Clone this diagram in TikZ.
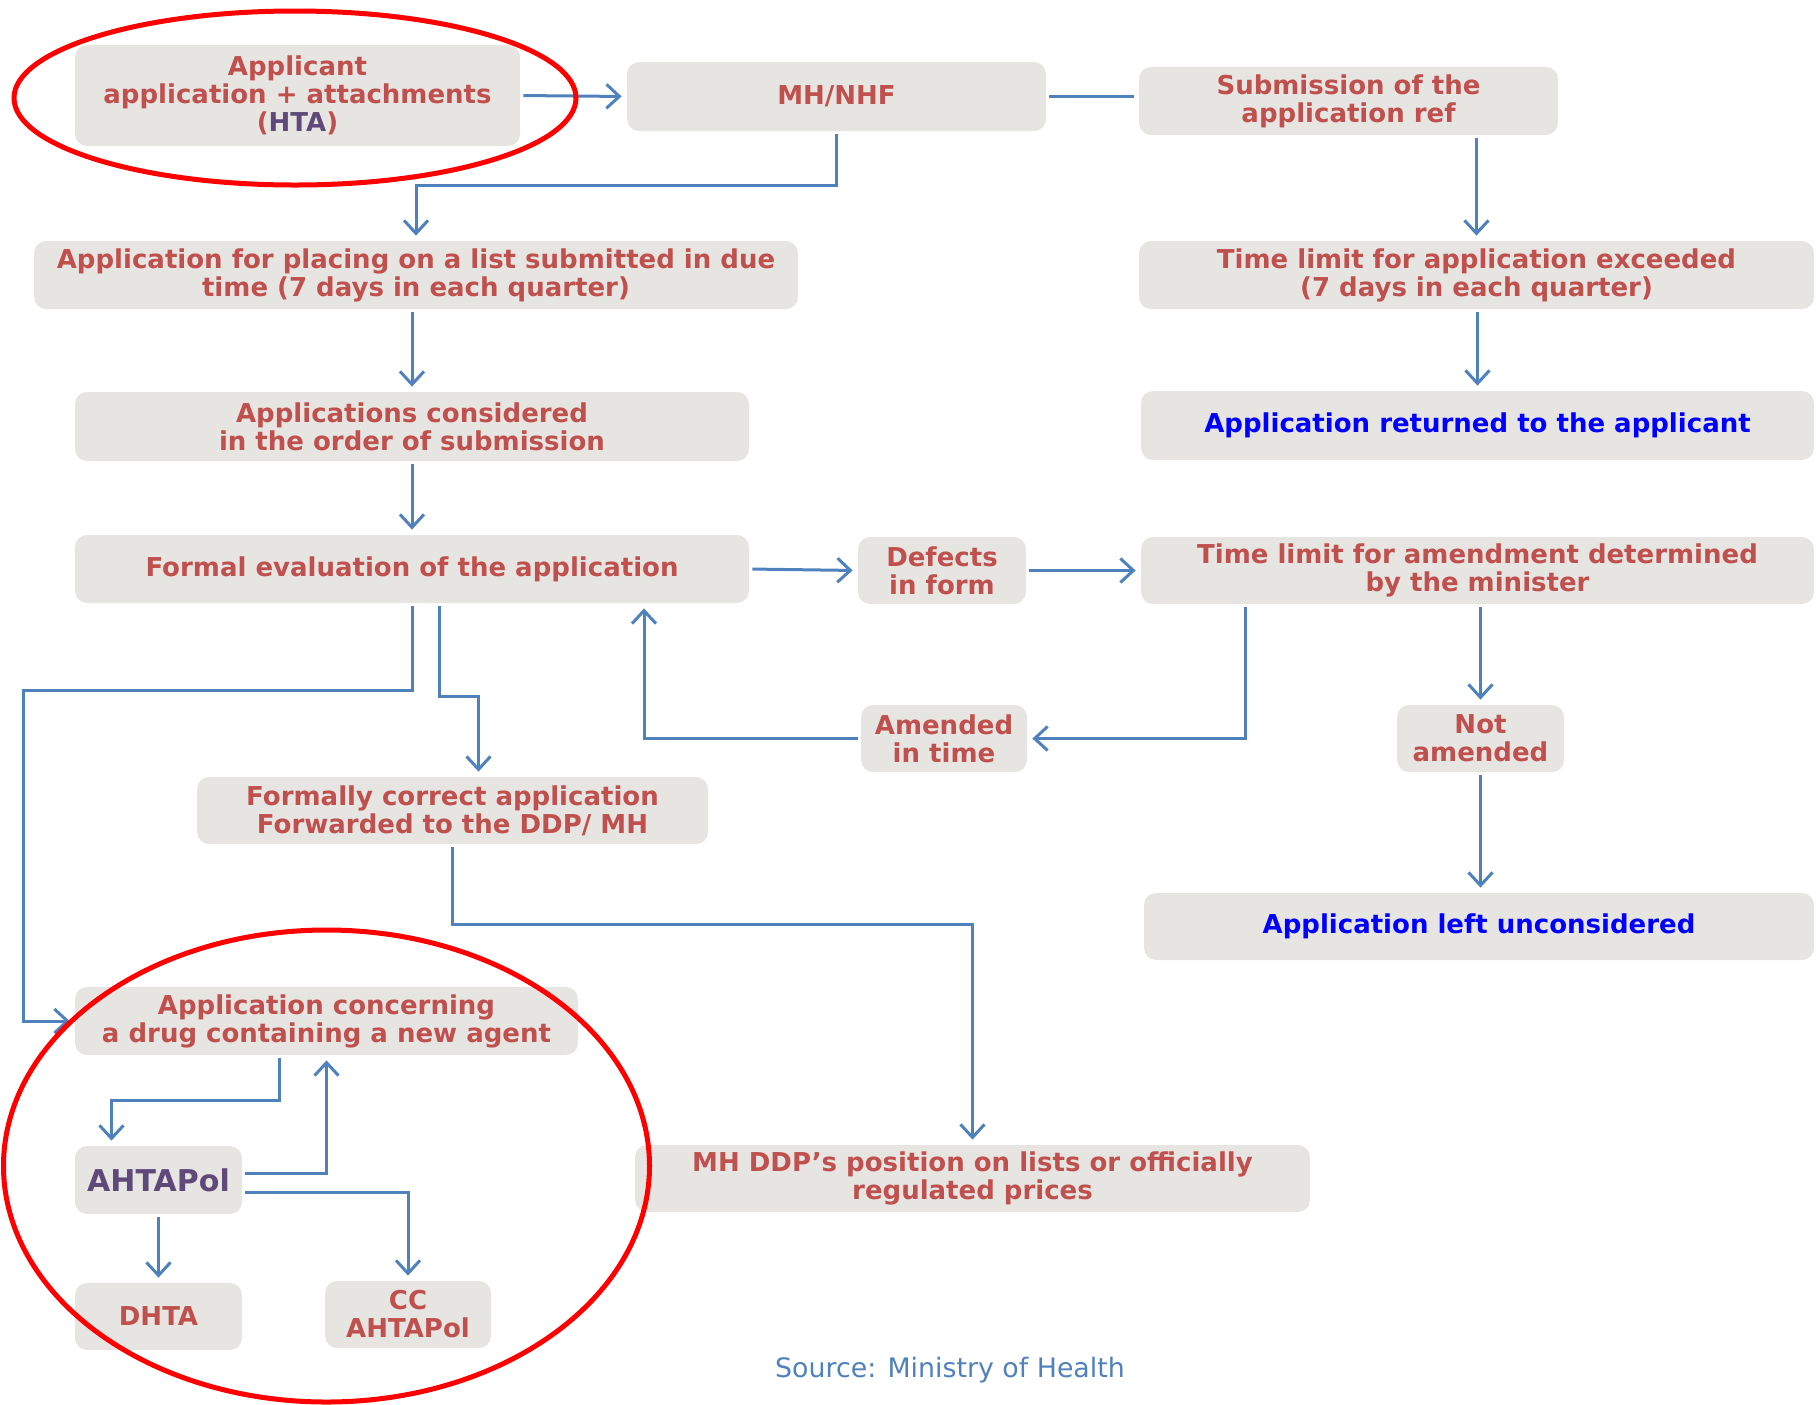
\documentclass[tikz,border=0pt]{standalone}
\usepackage{fontspec}
\setmainfont{DejaVu Sans}
\usetikzlibrary{arrows.meta,calc}
\definecolor{boxgray}{HTML}{E7E5E2}
\definecolor{txtred}{HTML}{C0504D}
\definecolor{lineblue}{HTML}{4F81BD}
\definecolor{txtpurple}{HTML}{5F497A}
\definecolor{txtblue}{HTML}{0000FF}
\tikzset{boxsize/.style 2 args={minimum width=#1*0.5pt,minimum height=#2*0.5pt}}
\begin{document}
\begin{tikzpicture}[x=0.5pt, y=-0.5pt, box/.style={rounded corners=6pt,fill=boxgray,text=txtred,align=center,inner sep=0pt,font=\fontsize{13}{14}\selectfont\bfseries}, flow/.style={draw=lineblue,line width=1.5pt,-{Straight Barb[length=6.5pt,width=12pt]},shorten >=2.5pt,shorten <=1.5pt}, plain/.style={draw=lineblue,line width=1.5pt,shorten >=2.5pt,shorten <=1.5pt}, ring/.style={draw=red,line width=2.5pt}]%text=txtblue,
\useasboundingbox (0,0) rectangle (1816,1404);
\begin{scope}[every node/.style={box}]
\node[boxsize={445}{101}] (appl) at (297.5,95.5) {Applicant\\application + attachments\\(\textcolor{txtpurple}{HTA})};
\node[boxsize={419}{69}] (mhnhf) at (836.5,96.5) {MH/NHF};
\node[boxsize={419}{68}] (subm) at (1348.5,101) {Submission of the\\application ref};
\node[boxsize={764}{68}] (placing) at (416,275) {Application for placing on a list submitted in due\\time (7 days in each quarter)};
\node[boxsize={675}{68}] (exceeded) at (1476.5,275) {Time limit for application exceeded\\(7 days in each quarter)};
\node[boxsize={674}{69}] (considered) at (412,426.5) {Applications considered\\in the order of submission};
\node[boxsize={673}{69},text=txtblue] (returned) at (1477.5,425.5) {Application returned to the applicant};
\node[boxsize={674}{68}] (formal) at (412,569) {Formal evaluation of the application};
\node[boxsize={168}{67}] (defects) at (942,570.5) {Defects\\in form};
\node[boxsize={673}{67}] (amend) at (1477.5,570.5) {Time limit for amendment determined\\by the minister};
\node[boxsize={166}{67}] (amended) at (944,738.5) {Amended\\in time};
\node[boxsize={167}{67}] (notam) at (1480.5,738.5) {Not\\amended};
\node[boxsize={511}{67}] (correct) at (452.5,810.5) {Formally correct application\\Forwarded to the DDP/ MH};
\node[boxsize={670}{67},text=txtblue] (unconsidered) at (1479,926.5) {Application left unconsidered};
\node[boxsize={503}{68}] (concerning) at (326.5,1021) {Application concerning\\a drug containing a new agent};
\node[boxsize={675}{67}] (position) at (972.5,1178.5) {MH DDP’s position on lists or officially\\regulated prices};
\node[boxsize={167}{68},text=txtpurple,font=\fontsize{15}{16}\selectfont\bfseries] (ahtapol) at (158.5,1180) {AHTAPol};
\node[boxsize={167}{67}] (dhta) at (158.5,1316.5) {DHTA};
\node[boxsize={166}{67}] (cc) at (408,1314.5) {CC\\AHTAPol};
%\node[boxsize={}{}] () at (,) {};
\end{scope}
\node[font=\fontsize{13.4}{15}\selectfont,text=lineblue] (src) at (950,1370) {Source: Ministry of Health};
\begin{scope}
\draw[flow] (appl.east) -- (mhnhf.west);
\draw[plain] (mhnhf.east) -- (mhnhf.east -| subm.west);
\draw[flow] (mhnhf.south) -- ++(0,54) -| (placing.north);
\draw[flow] (exceeded.north |- subm.south) -- (exceeded.north);
\draw[flow] (returned.north |- exceeded.south) -- (returned.north);
\draw[flow] (considered.north |- placing.south) -- (considered.north);
\draw[flow] (considered.south) -- (formal.north);
\draw[flow] (formal.east) -- (defects.west);
\draw[flow] (defects.east) -- (amend.west);
\draw[flow] ($(amend.south)+(-232,0)$) |- (amended.east);
\draw[flow] (amended.west) -| ($(formal.south)+(232,0)$);
\draw[flow] (notam.north |- amend.south) -- (notam.north);
\draw[flow] (notam.south) -- (notam.south |- unconsidered.north);
\coordinate (bend) at (23,690);
\draw[flow] (formal.south) |- (bend) |- (concerning.west);
\draw[flow] ($(formal.south)+(27,0)$) -- ++(0,93) -| ($(correct.north)+(26,0)$);
\draw[flow] (correct.south) -- ++(0,80) -| (position.north);
\draw[flow] ($(concerning.south)+(-47,0)$) -- ++(0,45) -| ($(ahtapol.north)+(-47,0)$);
\draw[flow] ($(ahtapol.east)+(0,-7)$) -| (concerning.south);
\draw[flow] ($(ahtapol.east)+(0,12)$) -| (cc.north);
\draw[flow] (ahtapol.south) -- (dhta.north);
%\draw[flow] () -- ();
\end{scope}
\draw[ring] (295,98) ellipse [x radius=281, y radius=87];
\draw[ring] (326.5,1166) ellipse [x radius=323, y radius=236];
\end{tikzpicture}
\end{document}
